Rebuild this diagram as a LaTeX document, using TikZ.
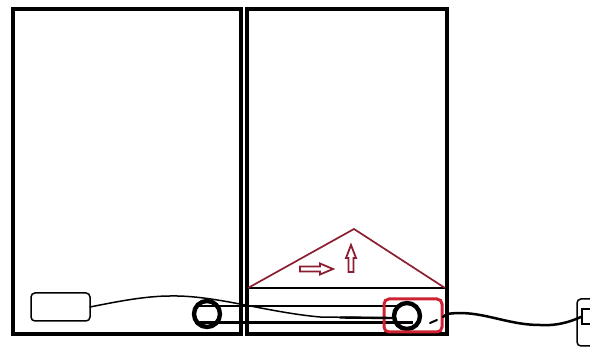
\documentclass[tikz,border=0pt]{standalone}
\usetikzlibrary{arrows.meta}
\definecolor{dred}{RGB}{140,30,50}
\definecolor{bred}{RGB}{205,35,50}
\tikzset{
  every node/.style={outer sep=0pt},
  cabinet/.style={draw=black,line width=3.6pt,minimum width=#1,inner sep=0pt,minimum height=325pt,anchor=north west},
  pulley/.style={circle,draw=black,line width=4.4pt,minimum size=26pt,inner sep=0pt},
  belt/.style={draw=black,line width=2.4pt},
  wire/.style={draw=black,line width=#1,line cap=round},
  hollow/.style={draw=dred,fill=white,line width=1.8pt,line join=miter},
}
\begin{document}
\begin{tikzpicture}[x=1pt,y=-1pt]
\useasboundingbox (0,0) rectangle (590,347);
\node[cabinet=228pt] (left) at (13,9) {};
\node[cabinet=200pt] (right) at (247,9) {};
% drawer front
\coordinate (hl) at (248,288);
\coordinate (hr) at (445,288);
\coordinate (apex) at (354,229);
\draw[draw=black,line width=2pt] (hl) -- (hr);
\draw[draw=dred,line width=1.7pt,line join=miter] (hl) -- (apex) -- (hr);
% arrows
\draw[hollow] (300,266.5) -- (320,266.5) -- (320,263.5) -- (333,269) -- (320,274.5) -- (320,271.5) -- (300,271.5) -- cycle;
\draw[hollow] (348.5,272) -- (348.5,258) -- (346,258) -- (351,245) -- (356,258) -- (353.5,258) -- (353.5,272) -- cycle;
% pulleys and belt
\node[pulley] (p1) at (207,314) {};
\node[pulley] (p2) at (407,316) {};
\coordinate (bt1) at (195,306);
\coordinate (bt2) at (402,306);
\coordinate (bb1) at (195,322.5);
\coordinate (bb2) at (413,322.5);
\draw[belt] (bt1) -- (bt2);
\draw[belt] (bb1) -- (bb2);
\node[draw=bred,line width=3pt,rounded corners=5pt,minimum width=58pt,minimum height=33pt,inner sep=0pt] (sel) at (413,315.5) {};
% adapter and wires
\node[draw=black,line width=1.5pt,rounded corners=4pt,fill=white,minimum width=59pt,minimum height=28pt,inner sep=0pt] (adapter) at (60.5,307) {};
\coordinate (w1) at (170,296);
\coordinate (w2) at (320,317);
\coordinate (w3) at (392,318);
\draw[wire=1.5pt] (adapter.east) .. controls (115,302) and (145,296) .. (w1)
  .. controls (215,295) and (265,312) .. (w2) -- (w3);
\draw[wire=2.4pt] (340,317.5) -- (w3);
% plug
\node[draw=black,line width=1.5pt,rounded corners=4pt,minimum width=30pt,minimum height=47pt,inner sep=0pt,anchor=north west] (plug) at (577,299) {};
\node[draw=black,line width=1.5pt,fill=white,minimum width=10pt,minimum height=15pt,inner sep=0pt,anchor=north west] (socket) at (582,309) {};
\coordinate (w4) at (430,323);
\coordinate (w5) at (447,314);
\coordinate (w6) at (540,325);
\draw[wire=2pt] (w4) -- (437,320);
\draw[wire=2.5pt] (443,317) -- (w5) .. controls (480,309) and (505,325) .. (w6)
  .. controls (557,326) and (570,322) .. (socket.west);
\end{tikzpicture}
\end{document}
